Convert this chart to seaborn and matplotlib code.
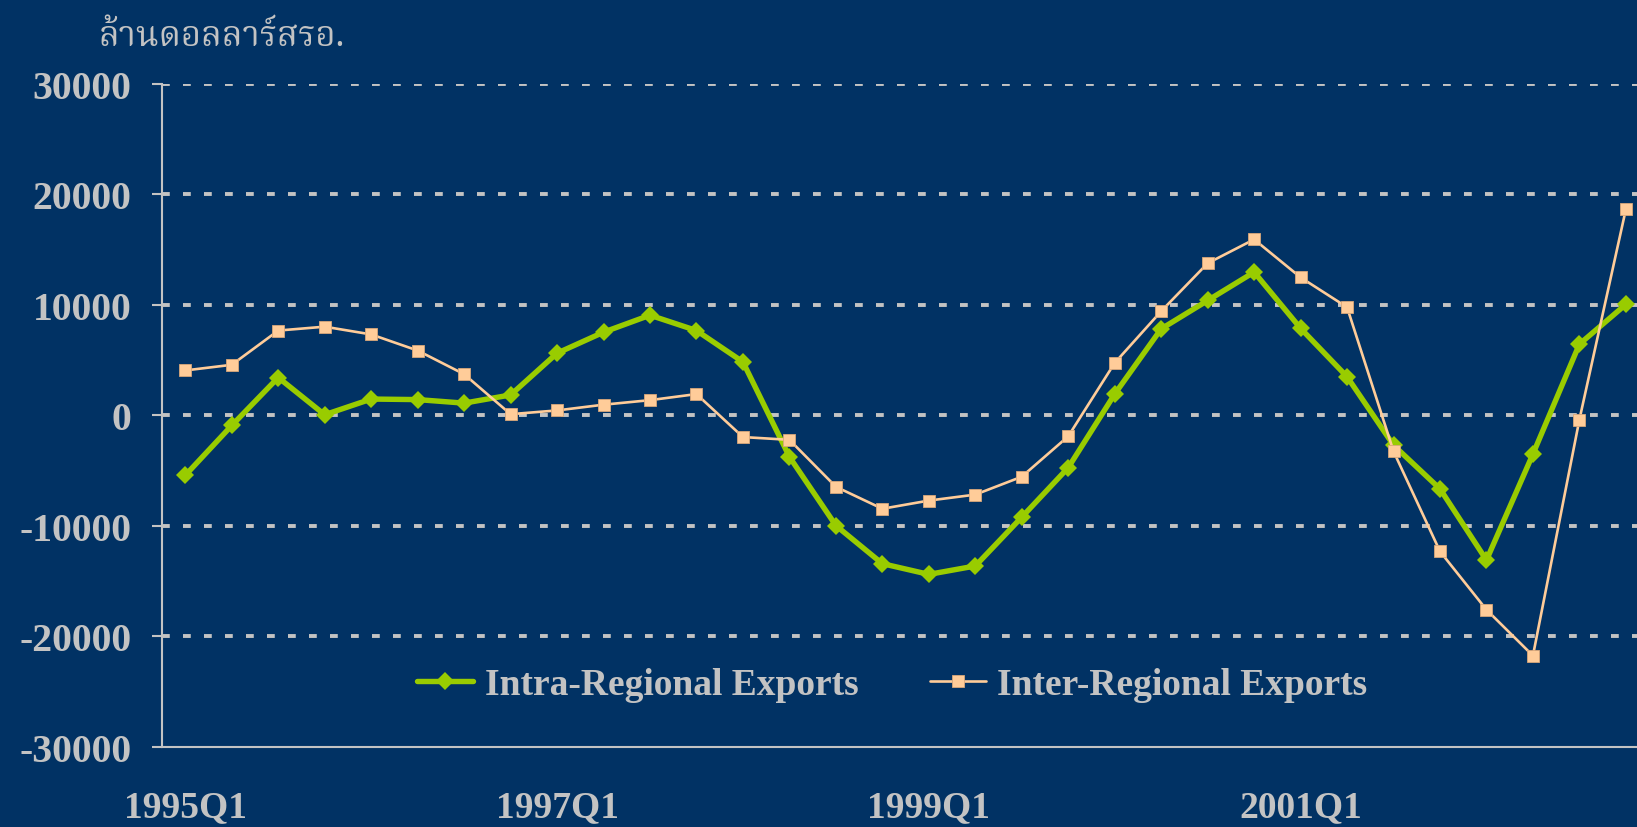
import matplotlib
matplotlib.use("Agg")
import matplotlib.pyplot as plt
import seaborn as sns

# quarterly series, millions of US dollars
quarters = [
    "1995Q1", "1995Q2", "1995Q3", "1995Q4", "1996Q1", "1996Q2", "1996Q3", "1996Q4",
    "1997Q1", "1997Q2", "1997Q3", "1997Q4", "1998Q1", "1998Q2", "1998Q3", "1998Q4",
    "1999Q1", "1999Q2", "1999Q3", "1999Q4", "2000Q1", "2000Q2", "2000Q3", "2000Q4",
    "2001Q1", "2001Q2", "2001Q3", "2001Q4", "2002Q1", "2002Q2", "2002Q3", "2002Q4",
]
intra = [-5450, -940, 3400, 30, 1450, 1400, 1080, 1820, 5600, 7500, 9040, 7650,
         4810, -3780, -10000, -13450, -14420, -13660, -9240, -4760, 1900, 7800,
         10370, 12940, 7850, 3470, -2730, -6680, -13130, -3530, 6420, 10020]
inter = [4040, 4550, 7650, 8000, 7300, 5840, 3700, 80, 420, 940, 1350, 1900,
         -1990, -2240, -6490, -8480, -7740, -7200, -5580, -1920, 4720, 9400,
         13740, 15900, 12460, 9760, -3280, -12340, -17620, -21780, -410, 18630]
yticks = [-30000, -20000, -10000, 0, 10000, 20000, 30000]
label_quarters = ["1995Q1", "1997Q1", "1999Q1", "2001Q1"]
unit_label = "ล้านดอลลาร์สรอ."

BG = "#013264"
GREY = "#C3C3C3"

sns.set_style("white")
plt.rcParams["font.family"] = ["Liberation Serif", "DejaVu Serif"]

fig = plt.figure(figsize=(16.37, 8.28), dpi=100, facecolor=BG)
ax = fig.add_axes([0.099, 0.0972, 0.9084, 0.8006])
ax.set_facecolor(BG)

sns.lineplot(x=quarters, y=intra, ax=ax, color="#99CC00", lw=3.9, marker="D",
             markersize=9, markeredgewidth=0, label="Intra-Regional Exports",
             sort=False, zorder=3)
sns.lineplot(x=quarters, y=inter, ax=ax, color="#FFCC99", lw=1.9, marker="s",
             markersize=8.5, markeredgewidth=0.6, markeredgecolor="#d9a77a",
             label="Inter-Regional Exports", sort=False, zorder=4)

ax.set_xlim(-0.5, len(quarters) - 0.5)
ax.set_ylim(-30000, 30000)
ax.set_yticks(yticks)
ax.set_yticklabels([str(v) for v in yticks])

label_pos = [quarters.index(q) for q in label_quarters]
ax.set_xticks(label_pos)
ax.set_xticklabels(label_quarters)
ax.set_xticks([i - 0.5 for i in range(0, len(quarters), 4)], minor=True)
ax.tick_params(axis="x", which="major", length=0, pad=31, labelsize=27,
               labelcolor=GREY)
ax.tick_params(axis="x", which="minor", length=9, width=1.5, color=GREY,
               direction="out")
ax.tick_params(axis="y", length=7, width=1.5, color=GREY, pad=15,
               labelsize=28.5, labelcolor=GREY, left=True)
for lab in ax.get_xticklabels() + ax.get_yticklabels():
    lab.set_fontweight("bold")

ax.set_xlabel("")
ax.set_ylabel("")
for side in ["top", "right"]:
    ax.spines[side].set_visible(False)
for side in ["left", "bottom"]:
    ax.spines[side].set_color(GREY)
    ax.spines[side].set_linewidth(1.5)

ax.grid(axis="y", color=GREY, lw=2.8, linestyle=(0, (2.0, 3.4)))
ax.grid(axis="x", visible=False)
# no dashed line on the bottom axis itself
ax.get_ygridlines()[0].set_visible(False)

leg = ax.legend(loc="center", bbox_to_anchor=(0.491, 0.094), ncol=2,
                frameon=False, handlelength=1.5, handletextpad=0.3,
                columnspacing=1.9, prop={"family": "Liberation Serif",
                                         "weight": "bold", "size": 27})
for t in leg.get_texts():
    t.set_color(GREY)

fig.text(99 / 1637, 1 - 37 / 828, unit_label, color=GREY, fontsize=25,
         va="center", ha="left", family=["Noto Serif Thai", "DejaVu Sans"])

fig.savefig("out.png", dpi=100, facecolor=BG)
